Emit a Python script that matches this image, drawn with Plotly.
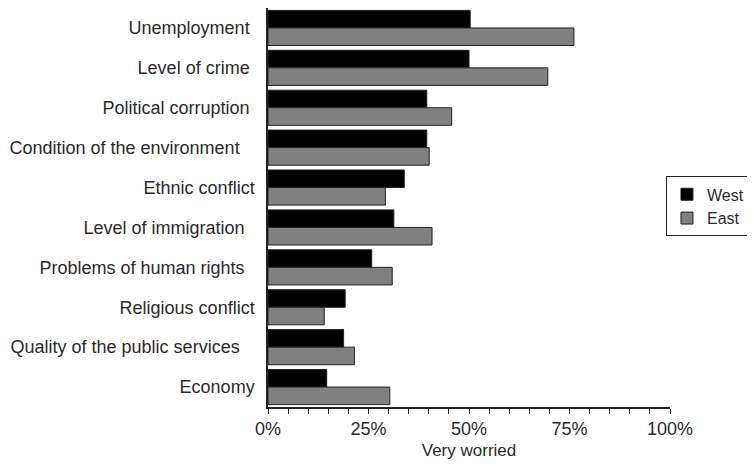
import plotly.graph_objects as go

categories = ["Unemployment", "Level of crime", "Political corruption",
              "Condition of the environment", "Ethnic conflict", "Level of immigration",
              "Problems of human rights", "Religious conflict",
              "Quality of the public services", "Economy"]
west = [0.503, 0.500, 0.395, 0.395, 0.339, 0.313, 0.258, 0.192, 0.188, 0.146]
east = [0.761, 0.696, 0.457, 0.401, 0.292, 0.408, 0.309, 0.140, 0.215, 0.303]
label_pad = [1, 1, 1, 3, 0, 2, 2, 0, 3, 0]
x_ticks = [0, 0.25, 0.5, 0.75, 1.0]
x_tick_text = ["0%", "25%", "50%", "75%", "100%"]

NB = "\u00a0"
ticktext = [c + NB * p for c, p in zip(categories, label_pad)]

fig = go.Figure()
fig.add_trace(go.Bar(name="West", y=categories, x=west, orientation="h",
                     marker=dict(color="#000000", line=dict(color="#222222", width=1))))
fig.add_trace(go.Bar(name="East", y=categories, x=east, orientation="h",
                     marker=dict(color="#808080", line=dict(color="#222222", width=1))))

# page body adds an 8px offset, so the figure is 747x466
fig.update_layout(
    width=747, height=466,
    margin=dict(l=260, r=85, t=0, b=67, autoexpand=False),
    paper_bgcolor="white", plot_bgcolor="white",
    font=dict(family="Liberation Sans, Arial, sans-serif", size=18, color="#2a2a2a"),
    barmode="group", bargap=0.12, bargroupgap=0,
    showlegend=True,
    legend=dict(x=0.99, xanchor="left", y=0.578, yanchor="top",
                bordercolor="#222222", borderwidth=1, bgcolor="white",
                font=dict(size=16), tracegroupgap=0, itemwidth=30),
)
fig.update_xaxes(range=[0, 1], tickvals=x_ticks, ticktext=x_tick_text,
                 ticks="outside", ticklen=5, tickcolor="#222222", tickwidth=1,
                 minor=dict(dtick=0.05, ticks="outside", ticklen=5, tickcolor="#222222"),
                 showline=True, linecolor="#222222", linewidth=1.5,
                 showgrid=False, zeroline=False,
                 title=dict(text="Very worried", font=dict(size=17), standoff=6))
fig.update_yaxes(autorange="reversed", tickvals=categories, ticktext=ticktext,
                 showline=True, linecolor="#222222", linewidth=1.5,
                 ticks="", ticklabelstandoff=8, showgrid=False)

fig.write_html("out.html")
